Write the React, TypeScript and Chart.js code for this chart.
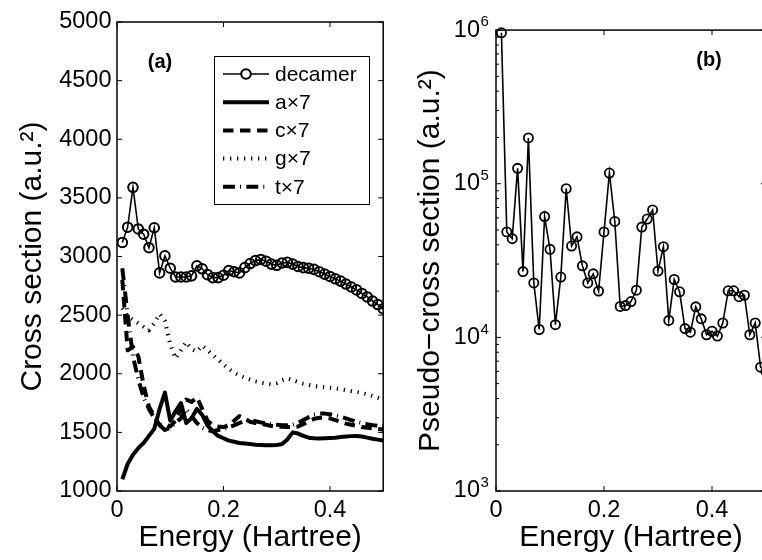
import React, { useEffect, useRef } from 'react';
import { Chart, registerables } from 'chart.js';
Chart.register(...registerables);

const FONT = '"Liberation Sans", Arial, Helvetica, sans-serif';

const energy = [
  0.01, 0.02, 0.03, 0.04, 0.05, 0.06, 0.07, 0.08, 0.09, 0.10,
  0.11, 0.12, 0.13, 0.14, 0.15, 0.16, 0.17, 0.18, 0.19, 0.20,
  0.21, 0.22, 0.23, 0.24, 0.25, 0.26, 0.27, 0.28, 0.29, 0.30,
  0.31, 0.32, 0.33, 0.34, 0.35, 0.36, 0.37, 0.38, 0.39, 0.40,
  0.41, 0.42, 0.43, 0.44, 0.45, 0.46, 0.47, 0.48, 0.49, 0.50,
];

const decamer = [
  3120, 3250, 3590, 3235, 3190, 3075, 3245, 2860, 3005, 2900,
  2825, 2825, 2825, 2835, 2920, 2895, 2845, 2820, 2820, 2840,
  2880, 2870, 2860, 2905, 2940, 2965, 2975, 2960, 2935, 2925,
  2945, 2950, 2935, 2915, 2905, 2900, 2890, 2870, 2850, 2830,
  2810, 2790, 2765, 2740, 2715, 2685, 2655, 2620, 2590, 2555,
];

const aX7 = [
  1100, 1230, 1310, 1365, 1410, 1470, 1530, 1700, 1840, 1600,
  1680, 1750, 1580, 1620, 1700, 1650, 1560, 1510, 1470, 1450,
  1430, 1420, 1410, 1405, 1400, 1395, 1392, 1390, 1390, 1392,
  1400, 1440, 1500, 1490, 1470, 1455, 1450, 1448, 1450, 1452,
  1455, 1460, 1465, 1468, 1470, 1465, 1455, 1445, 1438, 1430,
];

const cX7 = [
  2800, 2200, 2230, 2150, 1900, 1720, 1640, 1560, 1580, 1550,
  1600, 1700, 1780, 1760, 1800, 1700, 1600, 1560, 1550, 1545,
  1560, 1600, 1640, 1620, 1590, 1580, 1575, 1565, 1555, 1550,
  1548, 1545, 1545, 1550, 1570, 1595, 1615, 1625, 1625, 1620,
  1605, 1590, 1575, 1565, 1555, 1545, 1540, 1535, 1530, 1525,
];

const gX7 = [
  2560, 2490, 2460, 2430, 2400, 2370, 2430, 2510, 2450, 2250,
  2130, 2200, 2270, 2210, 2190, 2240, 2200, 2160, 2120, 2080,
  2040, 2010, 1985, 1965, 1950, 1935, 1925, 1915, 1910, 1920,
  1945, 1960, 1945, 1930, 1915, 1905, 1895, 1890, 1885, 1880,
  1875, 1868, 1860, 1852, 1845, 1835, 1825, 1810, 1795, 1780,
];

const tX7 = [
  2900, 2500, 2150, 1950, 1800, 1700, 1620, 1560, 1520, 1540,
  1580, 1620, 1700, 1640, 1580, 1540, 1520, 1510, 1520, 1530,
  1545, 1560, 1580, 1600, 1605, 1595, 1585, 1580, 1570, 1565,
  1560, 1560, 1565, 1580, 1605, 1630, 1650, 1660, 1660, 1655,
  1645, 1635, 1620, 1605, 1590, 1580, 1570, 1562, 1555, 1550,
];

const pseudo = [
  960000, 48600, 43900, 125900, 26800, 198600, 22600, 11250, 61100, 37400,
  12100, 24700, 92900, 39300, 45100, 29200, 22600, 25900, 20000, 48600,
  117400, 56800, 15900, 16100, 17100, 20300, 52200, 58900, 67500, 27000,
  38900, 12900, 23800, 19800, 11400, 10800, 15800, 13200, 10400, 10960,
  10200, 12400, 20100, 20100, 18400, 18800, 10400, 12400, 6400, 6000,
];

const seriesLabels = ['decamer', 'a\u00d77', 'c\u00d77', 'g\u00d77', 't\u00d77'];
const xTickValues = [0, 0.2, 0.4];
const yTicksA = [1000, 1500, 2000, 2500, 3000, 3500, 4000, 4500, 5000];
const yMajorB = [1e3, 1e4, 1e5, 1e6];
const yMinorFactors = [2, 3, 4, 5, 6, 7, 8, 9];

const pts = (ys: number[]) => energy.map((x, i) => ({ x, y: ys[i] }));

const isMajorLog = (v: number) => Math.abs(Math.log10(v) - Math.round(Math.log10(v))) < 1e-9;

const framePlugin = {
  id: 'frame',
  afterDraw(chart: any, _a: any, opts: any) {
    const { ctx, chartArea } = chart;
    const { left, right, top, bottom } = chartArea;
    const xs = chart.scales.x;
    const ys = chart.scales.y;
    ctx.save();
    ctx.setLineDash([]);
    ctx.strokeStyle = '#000';
    ctx.lineWidth = 1;
    ctx.beginPath();
    xs.ticks.forEach((t: any) => {
      const p = xs.getPixelForValue(t.value);
      ctx.moveTo(p, bottom); ctx.lineTo(p, bottom - 5);
      ctx.moveTo(p, top); ctx.lineTo(p, top + 5);
    });
    ys.ticks.forEach((t: any) => {
      const major = opts && opts.log ? isMajorLog(t.value) : true;
      const len = major ? 5 : 3;
      const p = ys.getPixelForValue(t.value);
      ctx.moveTo(left, p); ctx.lineTo(left + len, p);
      ctx.moveTo(right, p); ctx.lineTo(right - len, p);
    });
    ctx.stroke();
    ctx.lineWidth = 1.5;
    ctx.strokeRect(left, top, right - left, bottom - top);
    if (opts && opts.tag) {
      ctx.fillStyle = '#000';
      ctx.font = `bold 20px ${FONT}`;
      ctx.textAlign = 'center';
      ctx.textBaseline = 'middle';
      ctx.fillText(opts.tag, opts.tagX, opts.tagY);
    }
    if (opts && opts.log) {
      ctx.fillStyle = '#000';
      ctx.font = `15px ${FONT}`;
      ctx.textAlign = 'left';
      ctx.textBaseline = 'middle';
      ys.ticks.forEach((t: any) => {
        if (!isMajorLog(t.value)) return;
        const p = ys.getPixelForValue(t.value);
        ctx.fillText(String(Math.round(Math.log10(t.value))), left - 15.5, p - 8);
      });
    }
    ctx.restore();
  },
};

const legendPlugin = {
  id: 'boxLegend',
  afterDraw(chart: any, _a: any, opts: any) {
    if (!opts || !opts.show) return;
    const { ctx } = chart;
    const bx = 214, by = 56, bw = 155, bh = 148;
    ctx.save();
    ctx.fillStyle = '#fff';
    ctx.fillRect(bx, by, bw, bh);
    ctx.strokeStyle = '#000';
    ctx.lineWidth = 1;
    ctx.setLineDash([]);
    ctx.strokeRect(bx + 0.5, by + 0.5, bw, bh);
    chart.data.datasets.forEach((ds: any, i: number) => {
      const y = 74 + i * 28.2;
      ctx.save();
      ctx.strokeStyle = ds.borderColor;
      ctx.lineWidth = ds.borderWidth;
      ctx.lineCap = 'butt';
      ctx.setLineDash(ds.borderDash || []);
      ctx.beginPath();
      ctx.moveTo(223, y);
      ctx.lineTo(269, y);
      ctx.stroke();
      ctx.setLineDash([]);
      if (ds.pointRadius > 0) {
        ctx.lineWidth = ds.pointBorderWidth;
        ctx.beginPath();
        ctx.fillStyle = '#fff';
        ctx.arc(246, y, ds.pointRadius, 0, Math.PI * 2);
        ctx.fill();
        ctx.stroke();
      }
      ctx.restore();
      ctx.fillStyle = '#000';
      ctx.font = `21px ${FONT}`;
      ctx.textAlign = 'left';
      ctx.textBaseline = 'middle';
      ctx.fillText(ds.label, 275, y + 1);
    });
    ctx.restore();
  },
};

const tickFont = { family: FONT, size: 23.5 };
const titleFont = { family: FONT, size: 30 };

function baseX(title: string) {
  return {
    type: 'linear' as const,
    min: 0,
    max: 0.5,
    afterBuildTicks: (s: any) => { s.ticks = xTickValues.map((v) => ({ value: v })); },
    afterFit: (s: any) => { s.height = 69; },
    grid: { display: false, drawTicks: false },
    border: { display: false },
    ticks: { font: tickFont, color: '#000', padding: 5, maxRotation: 0, autoSkip: false, callback: (v: any) => String(v) },
    title: { display: true, text: title, font: titleFont, color: '#000', padding: { top: 0, bottom: 4 } },
  };
}

function lineDs(label: string, data: number[], width: number, dash: number[]) {
  return {
    label,
    data: pts(data),
    borderColor: '#000',
    borderWidth: width,
    borderDash: dash,
    borderCapStyle: 'butt',
    borderJoinStyle: 'round',
    pointRadius: 0,
    pointBorderWidth: 0,
    tension: 0,
    fill: false,
  };
}

export default function App() {
  const refA = useRef<HTMLCanvasElement | null>(null);
  const refB = useRef<HTMLCanvasElement | null>(null);

  useEffect(() => {
    if (!refA.current || !refB.current) return;
    const chartA = new Chart(refA.current, {
      type: 'line',
      data: {
        datasets: [
          {
            label: seriesLabels[0],
            data: pts(decamer),
            borderColor: '#000',
            borderWidth: 1.6,
            borderDash: [],
            pointRadius: 4.8,
            pointBorderWidth: 2,
            pointBorderColor: '#000',
            pointBackgroundColor: 'rgba(0,0,0,0)',
            tension: 0,
            fill: false,
          } as any,
          lineDs(seriesLabels[1], aX7, 4, []) as any,
          lineDs(seriesLabels[2], cX7, 4, [10.5, 6.5]) as any,
          lineDs(seriesLabels[3], gX7, 4, [1.3, 5.7]) as any,
          lineDs(seriesLabels[4], tX7, 4, [12, 5, 1, 5.3]) as any,
        ],
      },
      options: {
        animation: false,
        responsive: false,
        events: [],
        layout: { padding: { left: 0, top: 22, right: 5.5, bottom: 0 } },
        plugins: {
          legend: { display: false },
          tooltip: { enabled: false },
          frame: { log: false, tag: '(a)', tagX: 160, tagY: 62 },
          boxLegend: { show: true },
        } as any,
        scales: {
          x: baseX('Energy (Hartree)') as any,
          y: {
            type: 'linear',
            min: 1000,
            max: 5000,
            afterBuildTicks: (s: any) => { s.ticks = yTicksA.map((v) => ({ value: v })); },
            afterFit: (s: any) => { s.width = 117; },
            grid: { display: false, drawTicks: false },
            border: { display: false },
            ticks: { font: tickFont, color: '#000', padding: 5.5, autoSkip: false, callback: (v: any) => String(v) },
            title: { display: true, text: 'Cross section (a.u.\u00b2)', font: titleFont, color: '#000', padding: { top: 14.5, bottom: 0 } },
          } as any,
        },
      },
      plugins: [framePlugin, legendPlugin],
    });

    const chartB = new Chart(refB.current, {
      type: 'line',
      data: {
        datasets: [
          {
            label: 'pseudo',
            data: pts(pseudo),
            borderColor: '#000',
            borderWidth: 1.6,
            pointRadius: 4.6,
            pointBorderWidth: 1.8,
            pointBorderColor: '#000',
            pointBackgroundColor: 'rgba(0,0,0,0)',
            tension: 0,
            fill: false,
            clip: false,
          } as any,
        ],
      },
      options: {
        animation: false,
        responsive: false,
        events: [],
        layout: { padding: { left: 0, top: 22, right: 34, bottom: 0 } },
        plugins: {
          legend: { display: false },
          tooltip: { enabled: false },
          frame: { log: true, tag: '(b)', tagX: 319, tagY: 60 },
          boxLegend: { show: false },
        } as any,
        scales: {
          x: baseX('Energy (Hartree)') as any,
          y: {
            type: 'logarithmic',
            min: 1000,
            max: 1000000,
            afterBuildTicks: (s: any) => {
              const t: { value: number }[] = [];
              yMajorB.forEach((m, i) => {
                t.push({ value: m });
                if (i < yMajorB.length - 1) yMinorFactors.forEach((f) => t.push({ value: m * f }));
              });
              s.ticks = t;
            },
            afterFit: (s: any) => { s.width = 106; },
            grid: { display: false, drawTicks: false },
            border: { display: false },
            ticks: {
              font: tickFont,
              color: '#000',
              padding: 16,
              autoSkip: false,
              callback: (v: any) => (isMajorLog(Number(v)) ? '10' : ''),
            },
            title: { display: true, text: 'Pseudo\u2212cross section (a.u.\u00b2)', font: titleFont, color: '#000', padding: { top: 22.5, bottom: 0 } },
          } as any,
        },
      },
      plugins: [framePlugin],
    });

    return () => {
      chartA.destroy();
      chartB.destroy();
    };
  }, []);

  return (
    <div style={{ position: 'absolute', left: 0, top: 0, width: 762, height: 560, overflow: 'hidden', background: '#fff' }}>
      <canvas ref={refA} width={390} height={560} style={{ position: 'absolute', left: 0, top: 0, width: 390, height: 560 }} />
      <canvas ref={refB} width={410} height={560} style={{ position: 'absolute', left: 390, top: 0, width: 410, height: 560 }} />
    </div>
  );
}
